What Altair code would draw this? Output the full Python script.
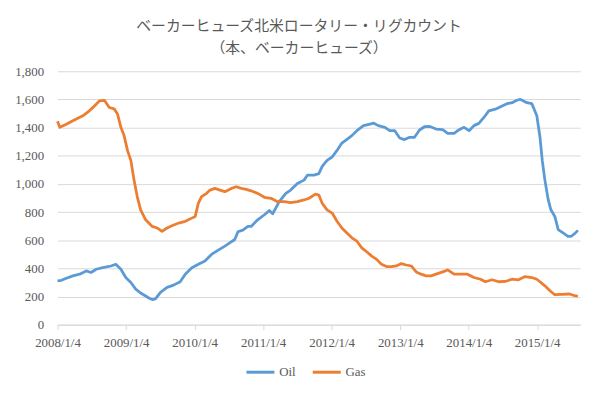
import altair as alt
import pandas as pd

# ---- data (approximate) ----
oil_dates = [
    "2008-01-04", "2008-01-25", "2008-02-20", "2008-03-26", "2008-05-01", "2008-06-05",
    "2008-07-01", "2008-07-28", "2008-09-01", "2008-10-15", "2008-11-10", "2008-12-07",
    "2009-01-02", "2009-01-29", "2009-02-24", "2009-03-22", "2009-04-18", "2009-05-05",
    "2009-05-23", "2009-06-09", "2009-07-06", "2009-08-10", "2009-09-14", "2009-10-19",
    "2009-11-15", "2009-12-20", "2010-01-24", "2010-02-28", "2010-04-04", "2010-05-10",
    "2010-06-14", "2010-07-10", "2010-08-06", "2010-08-23", "2010-09-18", "2010-10-15",
    "2010-11-01", "2010-12-06", "2011-01-11", "2011-02-06", "2011-02-24", "2011-03-31",
    "2011-05-05", "2011-05-31", "2011-07-06", "2011-08-10", "2011-08-28", "2011-10-02",
    "2011-10-28", "2011-11-15", "2011-12-11", "2012-01-07", "2012-02-02", "2012-02-28",
    "2012-03-26", "2012-04-21", "2012-05-18", "2012-06-22", "2012-07-27", "2012-08-14",
    "2012-09-09", "2012-10-14", "2012-11-09", "2012-12-06", "2013-01-01", "2013-01-27",
    "2013-02-23", "2013-03-21", "2013-04-17", "2013-05-13", "2013-06-08", "2013-07-14",
    "2013-08-18", "2013-09-14", "2013-10-18", "2013-11-14", "2013-12-10", "2014-01-06",
    "2014-02-01", "2014-02-27", "2014-03-26", "2014-04-21", "2014-05-26", "2014-07-01",
    "2014-07-27", "2014-08-23", "2014-09-18", "2014-10-05", "2014-11-10", "2014-12-06",
    "2014-12-15", "2015-01-02", "2015-01-19", "2015-01-31", "2015-02-14", "2015-03-04",
    "2015-03-18", "2015-04-08", "2015-04-26", "2015-05-22", "2015-06-17", "2015-07-05",
    "2015-07-23", "2015-08-09",
]
oil_values = [
    312, 315, 330, 347, 359, 382, 371, 394, 405, 417, 429, 394,
    335, 300, 253, 225, 204, 190, 178, 183, 230, 265, 281, 305,
    359, 405, 429, 452, 499, 530, 558, 581, 605, 660, 672, 698,
    698, 745, 781, 811, 788, 874, 933, 956, 1003, 1027, 1062, 1062,
    1073, 1125, 1167, 1191, 1238, 1290, 1317, 1343, 1378, 1414, 1425, 1432,
    1414, 1402, 1378, 1378, 1326, 1315, 1331, 1331, 1383, 1406, 1409, 1390,
    1385, 1359, 1359, 1385, 1402, 1378, 1414, 1430, 1472, 1519, 1531, 1554,
    1570, 1577, 1594, 1601, 1577, 1570, 1543, 1484, 1331, 1167, 1027, 886,
    816, 769, 675, 652, 628, 628, 647, 670,
]

gas_dates = [
    "2008-01-04", "2008-01-16", "2008-02-20", "2008-03-26", "2008-05-18", "2008-06-22",
    "2008-07-19", "2008-08-14", "2008-09-10", "2008-10-06", "2008-11-01", "2008-11-19",
    "2008-12-07", "2008-12-24", "2009-01-11", "2009-01-29", "2009-02-15", "2009-03-04",
    "2009-03-22", "2009-04-18", "2009-05-23", "2009-06-18", "2009-07-14", "2009-08-10",
    "2009-09-05", "2009-10-11", "2009-11-15", "2009-12-20", "2010-01-07", "2010-01-24",
    "2010-02-10", "2010-03-09", "2010-03-27", "2010-04-22", "2010-05-19", "2010-06-14",
    "2010-07-19", "2010-08-14", "2010-09-10", "2010-10-06", "2010-11-01", "2010-12-06",
    "2011-01-11", "2011-02-15", "2011-03-22", "2011-04-27", "2011-05-31", "2011-07-06",
    "2011-08-10", "2011-09-06", "2011-10-10", "2011-10-28", "2011-11-15", "2011-12-11",
    "2012-01-07", "2012-02-02", "2012-02-28", "2012-03-26", "2012-04-21", "2012-05-18",
    "2012-06-13", "2012-07-09", "2012-08-05", "2012-08-31", "2012-09-26", "2012-10-23",
    "2012-11-18", "2012-12-14", "2013-01-10", "2013-02-05", "2013-03-04", "2013-03-30",
    "2013-04-25", "2013-05-22", "2013-06-17", "2013-07-14", "2013-08-18", "2013-09-14",
    "2013-10-18", "2013-11-22", "2013-12-28", "2014-02-01", "2014-03-08", "2014-04-03",
    "2014-05-09", "2014-06-13", "2014-07-18", "2014-08-23", "2014-09-26", "2014-11-01",
    "2014-12-06", "2015-01-02", "2015-01-19", "2015-02-14", "2015-03-13", "2015-04-08",
    "2015-05-13", "2015-06-26", "2015-07-23", "2015-08-09",
]
gas_values = [
    1445, 1402, 1424, 1449, 1484, 1519, 1554, 1589, 1594, 1543, 1533, 1496,
    1402, 1343, 1238, 1167, 1027, 910, 816, 745, 698, 687, 663, 687,
    703, 722, 734, 757, 769, 863, 910, 933, 956, 968, 956, 945,
    968, 980, 968, 961, 951, 933, 905, 898, 874, 874, 867, 874,
    886, 898, 928, 921, 863, 816, 793, 735, 687, 652, 617, 593,
    546, 518, 487, 464, 429, 413, 413, 417, 434, 424, 417, 375,
    359, 347, 347, 359, 375, 389, 359, 359, 359, 335, 323, 305,
    319, 305, 307, 323, 319, 342, 335, 323, 305, 276, 241, 213,
    216, 218, 206, 202,
]

series_names = ["Oil", "Gas"]
series_colors = ["#5B9BD5", "#ED7D31"]
y_ticks = [0, 200, 400, 600, 800, 1000, 1200, 1400, 1600, 1800]
x_tick_years = [2008, 2009, 2010, 2011, 2012, 2013, 2014, 2015]
title_lines = ["ベーカーヒューズ北米ロータリー・リグカウント", "（本、ベーカーヒューズ）"]

df = pd.concat([
    pd.DataFrame({"date": oil_dates, "rigs": oil_values, "series": "Oil"}),
    pd.DataFrame({"date": gas_dates, "rigs": gas_values, "series": "Gas"}),
])

GRAY = "#595959"
GRID = "#D9D9D9"
SERIF = "Liberation Serif"

x_vals = [alt.DateTime(year=y, month=1, date=4, utc=True) for y in x_tick_years]

chart = alt.Chart(df).mark_line(strokeWidth=2.8, strokeJoin="round").encode(
    x=alt.X(
        "date:T",
        scale=alt.Scale(
            type="utc",
            domain=[alt.DateTime(year=2008, month=1, date=4, utc=True),
                    alt.DateTime(year=2015, month=8, date=21, utc=True)],
        ),
        axis=alt.Axis(
            values=x_vals,
            labelExpr="utcFormat(datum.value, '%Y/%-m/%-d')",
            title=None,
            grid=False,
            domainColor=GRID,
            tickColor=GRID,
            tickSize=5,
            labelPadding=7,
            labelFont=SERIF,
            labelFontSize=13,
            labelColor=GRAY,
            labelAngle=0,
            labelAlign="center",
            labelFlush=False,
            labelOverlap=False,
        ),
    ),
    y=alt.Y(
        "rigs:Q",
        scale=alt.Scale(domain=[0, 1800], nice=False),
        axis=alt.Axis(
            values=y_ticks,
            format=",.0f",
            title=None,
            domain=False,
            ticks=False,
            gridColor=GRID,
            labelPadding=14,
            labelFont=SERIF,
            labelFontSize=13,
            labelColor=GRAY,
        ),
    ),
    color=alt.Color(
        "series:N",
        scale=alt.Scale(domain=series_names, range=series_colors),
        sort=series_names,
        legend=alt.Legend(
            orient="none",
            legendX=189,
            legendY=288,
            direction="horizontal",
            title=None,
            symbolType="stroke",
            symbolSize=800,
            symbolStrokeWidth=3,
            labelFont=SERIF,
            labelFontSize=13,
            labelColor=GRAY,
            labelOffset=3,
            columnPadding=10,
            padding=0,
        ),
    ),
).properties(
    width=528,
    height=256,
    autosize=alt.AutoSizeParams(type="none"),
    padding={"left": 50, "top": 62, "right": 15, "bottom": 60},
    title=alt.TitleParams(
        text=title_lines,
        font="Noto Sans CJK JP",
        fontSize=15,
        fontWeight="normal",
        color=GRAY,
        anchor="middle",
        dx=-20,
        offset=9,
        lineHeight=23,
    ),
).configure_view(stroke=None)

chart.save("out.html", embed_options={"renderer": "svg", "actions": False})
